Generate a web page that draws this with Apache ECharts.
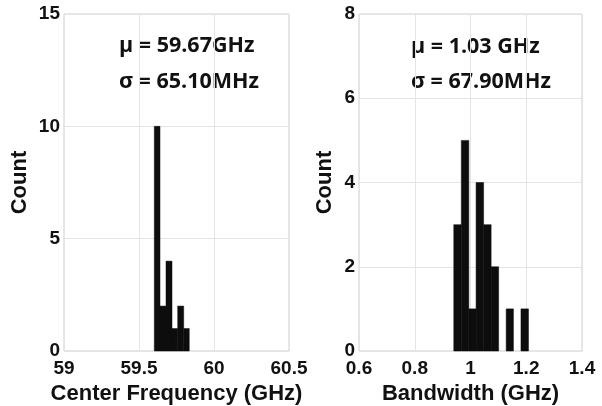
<!DOCTYPE html>
<html>
<head>
<meta charset="utf-8">
<script src="https://cdn.jsdelivr.net/npm/echarts@6/dist/echarts.min.js"></script>
<style>
  html, body { margin: 0; padding: 0; background: #fff; }
  #chart { width: 602px; height: 406px; }
</style>
</head>
<body>
<div id="chart"></div>
<script>
// Histogram of resonator center frequencies (GHz): bin edges and counts
const freqEdges = [59.602, 59.640, 59.680, 59.720, 59.758, 59.798, 59.835];
const freqCounts = [10, 2, 4, 1, 2, 1];

// Histogram of bandwidths (GHz): bin edges and counts
const bwEdges = [0.940, 0.967, 0.994, 1.020, 1.047, 1.074, 1.101, 1.128, 1.154, 1.181, 1.208];
const bwCounts = [3, 5, 1, 4, 3, 2, 0, 1, 0, 1];

// Summary statistics shown in each panel
const freqStats = ['\u03bc = 59.67GHz', '\u03c3 = 65.10MHz'];
const bwStats = ['\u03bc = 1.03 GHz', '\u03c3 = 67.90MHz'];

// Axis ranges and tick steps
const freqAxis = { min: 59, max: 60.5, interval: 0.5 };
const freqCountAxis = { min: 0, max: 15, interval: 5 };
const bwAxis = { min: 0.6, max: 1.4, interval: 0.2 };
const bwCountAxis = { min: 0, max: 8, interval: 2 };

function binData(edges, counts) {
  return counts.map((c, i) => [edges[i], edges[i + 1], c]);
}

function renderBin(params, api) {
  const x0 = api.value(0), x1 = api.value(1), c = api.value(2);
  if (!c) return null;
  const p0 = api.coord([x0, c]);
  const p1 = api.coord([x1, 0]);
  return {
    type: 'rect',
    shape: { x: p0[0], y: p0[1], width: p1[0] - p0[0], height: p1[1] - p0[1] },
    style: { fill: '#0d0d0d', stroke: '#0d0d0d', lineWidth: 0.5 }
  };
}

const tickFont = { fontFamily: 'Liberation Sans', fontWeight: 'bold', fontSize: 19, color: '#111' };
const nameFont = { fontFamily: 'Liberation Sans', fontWeight: 'bold', fontSize: 22, color: '#111' };

function xAxisCfg(grid, range, name, fmt) {
  return {
    type: 'value', gridIndex: grid, min: range.min, max: range.max, interval: range.interval,
    name: name, nameLocation: 'middle', nameGap: 29, nameTextStyle: nameFont,
    axisLine: { show: false }, axisTick: { show: false },
    axisLabel: Object.assign({ margin: 8, formatter: fmt, showMaxLabel: true, showMinLabel: true }, tickFont),
    splitLine: { show: true, lineStyle: { color: '#e4e4e4', width: 1 } }
  };
}

function yAxisCfg(grid, range, gap) {
  return {
    type: 'value', gridIndex: grid, min: range.min, max: range.max, interval: range.interval,
    name: 'Count', nameLocation: 'middle', nameGap: gap, nameTextStyle: nameFont,
    axisLine: { show: false }, axisTick: { show: false },
    axisLabel: Object.assign({ margin: 4 }, tickFont),
    splitLine: { show: true, lineStyle: { color: '#e4e4e4', width: 1 } }
  };
}

const statFont = { fontFamily: 'Open Sans', fontWeight: 'bold', fontSize: 21.5, fill: '#111' };

function statText(x, y, text) {
  return { type: 'text', left: x, top: y, style: Object.assign({ text: text }, statFont) };
}

const gridBase = {
  top: 14, bottom: 55, show: true, borderColor: '#cfcfcf', borderWidth: 1,
  backgroundColor: 'transparent', containLabel: false, outerBoundsMode: 'none'
};

const chart = echarts.init(document.getElementById('chart'));
chart.setOption({
  animation: false,
  backgroundColor: '#fff',
  grid: [
    Object.assign({ left: 64, right: 313 }, gridBase),
    Object.assign({ left: 359, right: 20 }, gridBase)
  ],
  xAxis: [
    xAxisCfg(0, freqAxis, 'Center Frequency (GHz)', v => String(+v.toFixed(1))),
    xAxisCfg(1, bwAxis, 'Bandwidth (GHz)', v => String(+v.toFixed(1)))
  ],
  yAxis: [
    yAxisCfg(0, freqCountAxis, 33),
    yAxisCfg(1, bwCountAxis, 23)
  ],
  series: [
    { type: 'custom', xAxisIndex: 0, yAxisIndex: 0, renderItem: renderBin, encode: { x: [0, 1], y: 2 }, data: binData(freqEdges, freqCounts) },
    { type: 'custom', xAxisIndex: 1, yAxisIndex: 1, renderItem: renderBin, encode: { x: [0, 1], y: 2 }, data: binData(bwEdges, bwCounts) }
  ],
  graphic: [
    statText(119, 35, freqStats[0]),
    statText(119, 71, freqStats[1]),
    statText(411, 36, bwStats[0]),
    statText(411, 71, bwStats[1])
  ]
});
</script>
</body>
</html>
